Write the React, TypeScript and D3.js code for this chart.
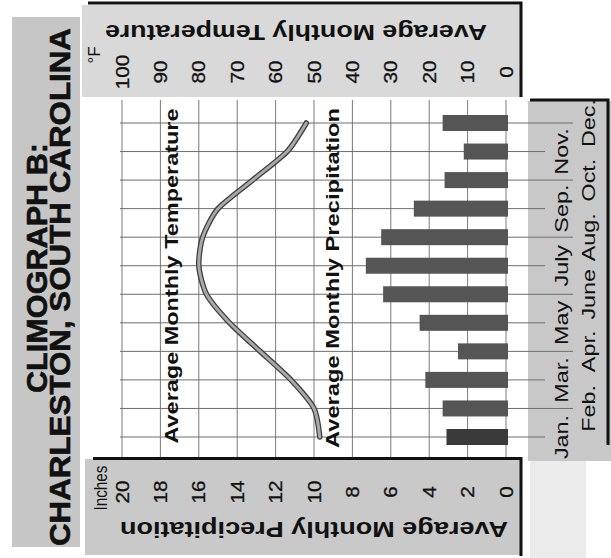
import React from 'react';
import * as d3 from 'd3';

const months = ['Jan.', 'Feb.', 'Mar.', 'Apr.', 'May', 'June', 'July', 'Aug.', 'Sep.', 'Oct.', 'Nov.', 'Dec.'];
const temperatureF = [48.5, 50, 56, 64, 72, 78, 80, 79, 75, 66, 57, 52];
const precipitationIn = [3.1, 3.3, 4.2, 2.5, 4.5, 6.4, 7.3, 6.5, 4.8, 3.2, 2.2, 3.3];
const tempTicks = [100, 90, 80, 70, 60, 50, 40, 30, 20, 10, 0];
const precipTicks = [20, 18, 16, 14, 12, 10, 8, 6, 4, 2, 0];

const FONT = '"Liberation Sans", Arial, Helvetica, sans-serif';

export default function App() {
  const W = 611, H = 558;
  const xT = d3.scaleLinear().domain([0, 100]).range([506, 122]);
  const xP = d3.scaleLinear().domain([0, 20]).range([506, 122]);
  const y = d3.scalePoint<string>().domain(months).range([437, 123]);
  const gridTop = 100, gridBottom = 458;
  const barH = 16;

  const line = d3
    .line<number>()
    .x((d) => xT(d))
    .y((_, i) => y(months[i]) as number)
    .curve(d3.curveCardinal.tension(0.3));
  const path = line(temperatureF) || '';

  return (
    <svg width={W} height={H} style={{ position: 'absolute', left: 0, top: 0, background: '#fff' }} fontFamily={FONT}>
      <rect x={0} y={0} width={W} height={H} fill="#fff" />
      {/* gray panels */}
      <rect x={12} y={17} width={68} height={530} fill="#c6c6c6" />
      <rect x={82} y={5} width={438} height={92} fill="#d9d9d9" />
      <rect x={85} y={459} width={435} height={96} fill="#c9c9c9" />
      <rect x={528} y={101} width={83} height={360} fill="#c8c8c8" />
      <rect x={530} y={461} width={56} height={97} fill="#ebebeb" />

      {/* vertical grid */}
      {tempTicks.map((t) => (
        <line key={'v' + t} x1={xT(t)} x2={xT(t)} y1={gridTop} y2={gridBottom} stroke="#7a7a7a" strokeWidth={1} />
      ))}
      {/* horizontal grid / month ticks */}
      {months.map((m, i) => (
        <line key={'h' + m} x1={120} x2={i % 2 === 0 ? 545 : 573} y1={y(m)} y2={y(m)} stroke="#6e6e6e" strokeWidth={1} />
      ))}

      {/* precipitation bars */}
      {precipitationIn.map((p, i) => (
        <rect
          key={'b' + i}
          x={xP(p)}
          y={(y(months[i]) as number) - barH / 2}
          width={xP(0) - xP(p) + 2}
          height={barH}
          fill={i === 0 ? '#3a3a3a' : '#555'}
        />
      ))}

      {/* temperature curve */}
      <path d={path} fill="none" stroke="#3c3c3c" strokeWidth={5.5} strokeLinecap="round" />
      <path d={path} fill="none" stroke="#a8a8a8" strokeWidth={3} strokeLinecap="round" />

      {/* inner labels */}
      <text transform="translate(178,276) rotate(-90)" textAnchor="middle" fontSize={18} fontWeight="bold" textLength={335} lengthAdjust="spacingAndGlyphs" fill="#111">
        Average Monthly Temperature
      </text>
      <text transform="translate(339,278) rotate(-90)" textAnchor="middle" fontSize={18} fontWeight="bold" textLength={340} lengthAdjust="spacingAndGlyphs" fill="#111">
        Average Monthly Precipitation
      </text>

      {/* title */}
      <text transform="translate(47,268) rotate(-90)" textAnchor="middle" fontSize={30} fontWeight="bold" textLength={250} lengthAdjust="spacingAndGlyphs" fill="#111" stroke="#111" strokeWidth={0.6}>
        CLIMOGRAPH B:
      </text>
      <text transform="translate(70,287) rotate(-90)" textAnchor="middle" fontSize={30} fontWeight="bold" textLength={518} lengthAdjust="spacingAndGlyphs" fill="#111" stroke="#111" strokeWidth={0.6}>
        CHARLESTON, SOUTH CAROLINA
      </text>

      {/* top axis: temperature */}
      <text transform="translate(296,25) rotate(180)" textAnchor="middle" fontSize={22} fontWeight="bold" textLength={382} lengthAdjust="spacingAndGlyphs" fill="#111">
        Average Monthly Temperature
      </text>
      {tempTicks.map((t) => (
        <text key={'tt' + t} transform={`translate(${xT(t) + 6.5},72) rotate(-90) scale(1.15,1)`} textAnchor="middle" fontSize={18} fill="#111" stroke="#111" strokeWidth={0.3}>
          {t}
        </text>
      ))}
      <text transform="translate(100,55) rotate(-90)" textAnchor="middle" fontSize={17} fill="#111">
        °F
      </text>

      {/* bottom axis: precipitation */}
      <text transform="translate(314,522) rotate(180)" textAnchor="middle" fontSize={22} fontWeight="bold" textLength={388} lengthAdjust="spacingAndGlyphs" fill="#111">
        Average Monthly Precipitation
      </text>
      {precipTicks.map((p) => (
        <text key={'pt' + p} transform={`translate(${xP(p) + 6.5},492) rotate(-90) scale(1.15,1)`} textAnchor="middle" fontSize={18} fill="#111" stroke="#111" strokeWidth={0.3}>
          {p}
        </text>
      ))}
      <text transform="translate(107,488) rotate(-90)" textAnchor="middle" fontSize={18} textLength={45} lengthAdjust="spacingAndGlyphs" fill="#111">
        Inches
      </text>

      {/* month labels */}
      {months.map((m, i) => (
        <text
          key={'m' + m}
          transform={`translate(${i % 2 === 0 ? 568 : 595},${y(m)}) rotate(-90) scale(1.3,1)`}
          textAnchor="middle"
          fontSize={18}
          fill="#111"
        >
          {m}
        </text>
      ))}

      {/* borders */}
      <path d="M88,3 H521 V97" fill="none" stroke="#111" strokeWidth={3} />
      <path d="M93,458.5 H521 V556" fill="none" stroke="#111" strokeWidth={3} />
      <path d="M530,100 H608 V445" fill="none" stroke="#111" strokeWidth={3} />
    </svg>
  );
}
